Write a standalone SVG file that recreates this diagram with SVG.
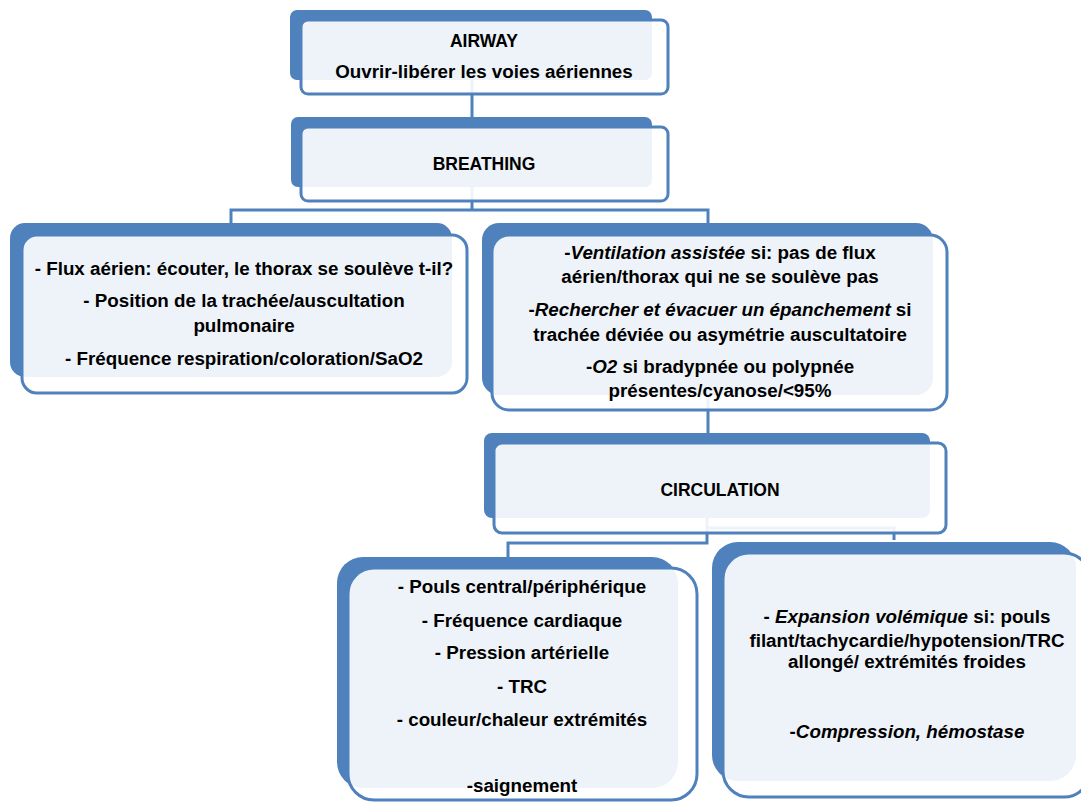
<svg xmlns="http://www.w3.org/2000/svg" width="1081" height="803" viewBox="0 0 1081 803">
<style>
.back{fill:#4f81bd;}
.front{fill:#ffffff;fill-opacity:0.9;stroke:#4f81bd;stroke-width:3;}
.conn{fill:none;stroke:#4f81bd;stroke-width:3;}
text{font-family:"Liberation Sans",Arial,sans-serif;font-weight:bold;font-size:18.8px;fill:#000;text-anchor:middle;}
.cap{font-size:17.5px;}
.it{font-style:italic;}
</style>
<rect width="1081" height="803" fill="#ffffff"/>
<g id="connectors">
<path class="conn" d="M472,80 V117"/>
<path class="conn" d="M472,187 V210 M231,223 V210 H708 V223"/>
<path class="conn" d="M708,395 V433"/>
<path class="conn" d="M707,518 V543 H508 V557"/>
<path class="conn" d="M707,528 H894 V540"/>
</g>
<g id="airway">
<rect class="back" x="290" y="10" width="362" height="70" rx="7"/>
<rect class="front" x="301" y="20" width="367" height="74" rx="7"/>
<text class="cap" x="484" y="47">AIRWAY</text>
<text x="484" y="78">Ouvrir-libérer les voies aériennes</text>
</g>
<g id="breathing">
<rect class="back" x="291" y="117" width="361" height="70" rx="7"/>
<rect class="front" x="301" y="127" width="367" height="74" rx="7"/>
<text class="cap" x="484" y="170">BREATHING</text>
</g>
<g id="breathing-assess">
<rect class="back" x="10" y="223" width="442" height="154" rx="15"/>
<rect class="front" x="22" y="235" width="445" height="158" rx="15"/>
<text x="244" y="275">- Flux aérien: écouter, le thorax se soulève t-il?</text>
<text x="244" y="307">- Position de la trachée/auscultation</text>
<text x="244" y="332">pulmonaire</text>
<text x="244" y="365">- Fréquence respiration/coloration/SaO2</text>
</g>
<g id="breathing-actions">
<rect class="back" x="482" y="223" width="451" height="172" rx="17"/>
<rect class="front" x="492" y="235" width="455" height="175" rx="17"/>
<text x="720" y="259">-<tspan class="it">Ventilation assistée</tspan> si: pas de flux</text>
<text x="720" y="283">aérien/thorax qui ne se soulève pas</text>
<text x="720" y="316">-<tspan class="it">Rechercher et évacuer un épanchement</tspan> si</text>
<text x="720" y="341">trachée déviée ou asymétrie auscultatoire</text>
<text x="720" y="373">-<tspan class="it">O2</tspan> si bradypnée ou polypnée</text>
<text x="720" y="397">présentes/cyanose/&lt;95%</text>
</g>
<g id="circulation">
<rect class="back" x="484" y="433" width="446" height="85" rx="8"/>
<rect class="front" x="494" y="443" width="452" height="90" rx="8"/>
<text class="cap" x="720" y="496">CIRCULATION</text>
</g>
<g id="circulation-assess">
<rect class="back" x="337" y="557" width="341" height="231" rx="26"/>
<rect class="front" x="348" y="568" width="349" height="232" rx="26"/>
<text x="522" y="593">- Pouls central/périphérique</text>
<text x="522" y="627">- Fréquence cardiaque</text>
<text x="522" y="659">- Pression artérielle</text>
<text x="522" y="693">- TRC</text>
<text x="522" y="726">- couleur/chaleur extrémités</text>
<text x="522" y="792">-saignement</text>
</g>
<g id="circulation-actions">
<rect class="back" x="712" y="542" width="364" height="239" rx="26"/>
<rect class="front" x="723" y="553" width="367" height="244" rx="26"/>
<text x="907" y="623">- <tspan class="it">Expansion volémique</tspan> si: pouls</text>
<text x="907" y="647">filant/tachycardie/hypotension/TRC</text>
<text x="907" y="668">allongé/ extrémités froides</text>
<text x="907" y="738">-<tspan class="it">Compression, hémostase</tspan></text>
</g>
</svg>
